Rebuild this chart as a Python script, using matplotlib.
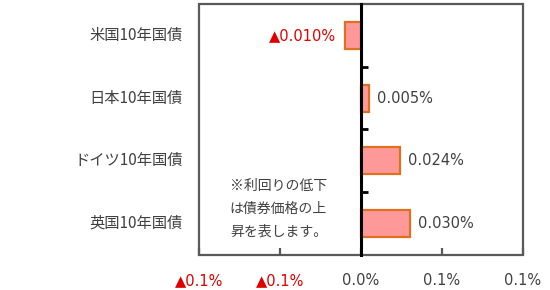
import matplotlib
matplotlib.use('Agg')
import matplotlib.pyplot as plt
import matplotlib.transforms as mtrans
from matplotlib.patches import Rectangle

plt.rcParams['font.family'] = ['Noto Sans CJK JP', 'DejaVu Sans']

# data
bonds = ['米国10年国債', '日本10年国債', 'ドイツ10年国債', '英国10年国債']
changes = [-0.010, 0.005, 0.024, 0.030]   # %
xticks = [-0.10, -0.05, 0.0, 0.05, 0.10]
xtick_labels = ['▲0.1%', '▲0.1%', '0.0%', '0.1%', '0.1%']
note = '※利回りの低下\nは債券価格の上\n昇を表します。'

txt = '#404040'
red = '#E00000'
numfont = ['DejaVu Sans']

fig = plt.figure(figsize=(5.5, 2.9), dpi=100)
ax = fig.add_axes([0.362, 0.121, 0.589, 0.865])

y = list(range(len(bonds)))
ax.barh(y, changes, height=0.43, color='#FF9999', edgecolor='#E07020', linewidth=1.6, zorder=3)
ax.set_xlim(-0.1, 0.1)
ax.set_ylim(3.5, -0.5)

# frame
for s in ax.spines.values():
    s.set_visible(False)
ax.add_patch(Rectangle((0, 0), 1, 1, transform=ax.transAxes, fill=False,
                       edgecolor='#595959', linewidth=1.6, zorder=5, clip_on=False))
ax.spines['left'].set_visible(True)
ax.spines['left'].set_position(('data', 0))
ax.spines['left'].set_color('black')
ax.spines['left'].set_linewidth(2.2)
ax.spines['left'].set_zorder(6)

ax.set_yticks([0.5, 1.5, 2.5])
ax.set_yticklabels([])
ax.tick_params(axis='y', direction='in', length=5, width=2, color='black')

ax.set_xticks(xticks)
ax.set_xticklabels(xtick_labels, family=numfont, fontsize=10.5)
ax.tick_params(axis='x', direction='in', length=5, width=1.6, color='#595959', pad=13,
               labelcolor=txt)
for lab, v in zip(ax.get_xticklabels(), xticks):
    if v < 0:
        lab.set_color(red)

# category labels
tr = mtrans.blended_transform_factory(ax.transAxes, ax.transData)
for yi, name in zip(y, bonds):
    ax.text(-0.05, yi, name, transform=tr, ha='right', va='center', fontsize=11, color=txt)

# value labels
for yi, v in zip(y, changes):
    if v < 0:
        ax.annotate(f'▲{abs(v):.3f}%', (v, yi), xytext=(-9, 0), textcoords='offset pixels',
                    ha='right', va='center', fontsize=10.5, color=red, family=numfont)
    else:
        ax.annotate(f'{v:.3f}%', (v, yi), xytext=(8, 0), textcoords='offset pixels',
                    ha='left', va='center', fontsize=10.5, color=txt, family=numfont)

ax.text(0.095, 0.183, note, transform=ax.transAxes, ha='left', va='center',
        fontsize=10, color=txt, linespacing=1.8)

fig.savefig('out.png', dpi=100)
